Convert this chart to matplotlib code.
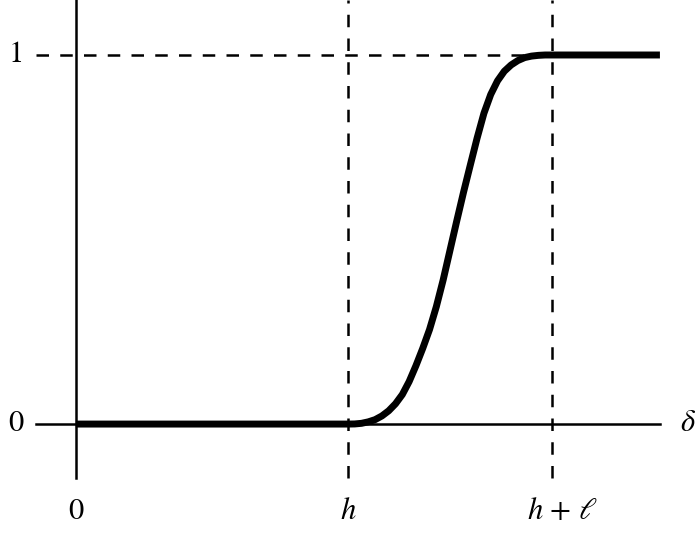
import matplotlib.pyplot as plt

plt.rcParams['mathtext.fontset'] = 'stix'
plt.rcParams['font.family'] = ['STIXGeneral', 'DejaVu Serif']

# smooth step (h = 1, l = 0.75)
h = 1.0
ell = 0.75
curve_x = [0, 1.0, 1.025, 1.05, 1.075, 1.1, 1.125, 1.15, 1.175, 1.2, 1.225,
           1.25, 1.275, 1.3, 1.325, 1.35, 1.375, 1.4, 1.425, 1.45, 1.475,
           1.5, 1.525, 1.55, 1.575, 1.6, 1.625, 1.65, 1.675, 1.7, 1.725,
           1.75, 2.147]
curve_y = [0, 0, 0.0003, 0.002, 0.006, 0.012, 0.022, 0.036, 0.055, 0.080, 0.115,
           0.158, 0.205, 0.256, 0.318, 0.390, 0.470, 0.550, 0.628, 0.702, 0.775,
           0.842, 0.893, 0.930, 0.956, 0.973, 0.985, 0.993, 0.997, 0.999, 1.0,
           1.0, 1.0]

x_ticks = [0, h, h + ell]
x_labels = ['0', r'$h$', r'$h$ + $\ell$']
y_ticks = [0, 1]
y_labels = ['0', '1']

fig = plt.figure(figsize=(6.98, 5.37), dpi=100)
ax = fig.add_axes([0, 0, 1, 1])
ax.set_xlim(-0.279, 2.287)
ax.set_ylim(-0.306, 1.149)
ax.axis('off')

lw = 1.8
dash = (5, 4.5)
# axes
ax.plot([0, 0], [-0.146, 1.149], color='black', lw=lw)
ax.plot([-0.147, 2.147], [0, 0], color='black', lw=lw)
# dashed guides
for xv in [h, h + ell]:
    ax.plot([xv, xv], [-0.146, 1.149], color='black', lw=lw, dashes=dash)
ax.plot([-0.147, h + ell], [1, 1], color='black', lw=lw, dashes=dash)

ax.plot(curve_x, curve_y, color='black', lw=5, solid_capstyle='butt',
        solid_joinstyle='round')

fs = 22
for yv, lab in zip(y_ticks, y_labels):
    ax.text(-0.22, yv, lab, fontsize=fs, ha='center', va='center')
for xv, lab in zip(x_ticks, x_labels):
    ax.text(xv + (0.04 if xv == h + ell else 0), -0.238, lab,
            fontsize=fs, ha='center', va='center')
ax.text(2.25, 0, r'$\delta$', fontsize=fs, ha='center', va='center')

fig.savefig('out.png', dpi=100)
